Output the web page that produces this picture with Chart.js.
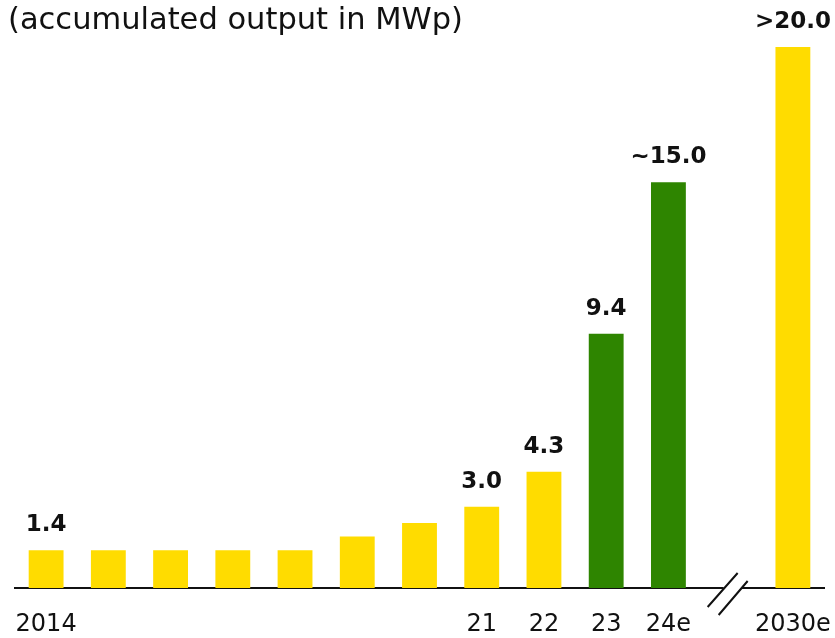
<!DOCTYPE html>
<html>
<head>
<meta charset="utf-8">
<script src="https://cdn.jsdelivr.net/npm/chart.js@4/dist/chart.umd.min.js"></script>
<style>
  html, body { margin: 0; padding: 0; background: #fff; overflow: hidden; }
  #wrap { width: 835px; height: 662px; }
</style>
</head>
<body>
<div id="wrap"><canvas id="outputChart"></canvas></div>
<script>
var years = ['2014', '15', '16', '17', '18', '19', '20', '21', '22', '23', '24e', '', '2030e'];
var tickLabels = ['2014', '', '', '', '', '', '', '21', '22', '23', '24e', '', '2030e'];
var outputMWp = [1.4, 1.4, 1.4, 1.4, 1.4, 1.9, 2.4, 3.0, 4.3, 9.4, 15.0, null, 20.0];
var valueLabels = ['1.4', '', '', '', '', '', '', '3.0', '4.3', '9.4', '~15.0', '', '>20.0'];
var isGreen = [false, false, false, false, false, false, false, false, false, true, true, false, false];

var yellow = '#ffdc00';
var green = '#2e8500';
var ink = '#111111';
var font = "'DejaVu Sans', sans-serif";

// bold numbers on top of the bars
var valueLabelPlugin = {
    id: 'valueLabels',
    afterDatasetsDraw: function (chart) {
        var ctx = chart.ctx;
        var meta = chart.getDatasetMeta(0);
        ctx.save();
        ctx.font = 'bold 23px ' + font;
        ctx.fillStyle = ink;
        ctx.textAlign = 'center';
        ctx.textBaseline = 'alphabetic';
        meta.data.forEach(function (bar, i) {
            if (!valueLabels[i]) return;
            ctx.fillText(valueLabels[i], bar.x, bar.y - 19);
        });
        ctx.restore();
    }
};

// the // break in the axis before 2030e
var axisBreakPlugin = {
    id: 'axisBreak',
    afterDraw: function (chart) {
        var ctx = chart.ctx;
        var bx = chart.scales.x.getPixelForValue(11);
        var by = chart.chartArea.bottom;
        ctx.save();
        ctx.fillStyle = '#fff';
        ctx.fillRect(bx - 7, by - 3, 18, 6);
        ctx.strokeStyle = ink;
        ctx.lineWidth = 2;
        ctx.beginPath();
        ctx.moveTo(bx - 23, by + 19);
        ctx.lineTo(bx + 7, by - 15);
        ctx.moveTo(bx - 12, by + 27);
        ctx.lineTo(bx + 17, by - 7);
        ctx.stroke();
        ctx.restore();
    }
};

const ctx = document.getElementById('outputChart').getContext('2d');

new Chart(ctx, {
    type: 'bar',
    data: {
        labels: years,
        datasets: [{
            data: outputMWp,
            backgroundColor: isGreen.map(function (g) { return g ? green : yellow; }),
            borderWidth: 0,
            categoryPercentage: 1.0,
            barPercentage: 0.56
        }]
    },
    options: {
        responsive: true,
        maintainAspectRatio: false,
        animation: false,
        layout: { padding: { left: 8, right: 11, top: 0, bottom: 0 } },
        plugins: {
            legend: { display: false },
            tooltip: { enabled: false },
            title: {
                display: true,
                text: '(accumulated output in MWp)',
                align: 'start',
                color: ink,
                font: { family: font, size: 30.5, weight: 'normal', lineHeight: 1.18 },
                padding: { top: 3, bottom: 0 }
            }
        },
        scales: {
            x: {
                grid: { display: false, drawTicks: false },
                border: { display: true, color: ink, width: 2 },
                ticks: {
                    color: ink,
                    autoSkip: false,
                    maxRotation: 0,
                    padding: 22,
                    font: { family: font, size: 24, lineHeight: 1.25 },
                    callback: function (value, index) {
                        return tickLabels[index];
                    }
                },
                // labels fit inside the page, so no extra side padding
                afterFit: function (scale) {
                    scale.paddingLeft = 0;
                    scale.paddingRight = 0;
                }
            },
            y: {
                min: 0,
                max: 20.3,
                grid: { display: false, drawTicks: false },
                border: { display: false },
                ticks: { display: false },
                afterFit: function (scale) { scale.width = 7; }
            }
        }
    },
    plugins: [valueLabelPlugin, axisBreakPlugin]
});
</script>
</body>
</html>
